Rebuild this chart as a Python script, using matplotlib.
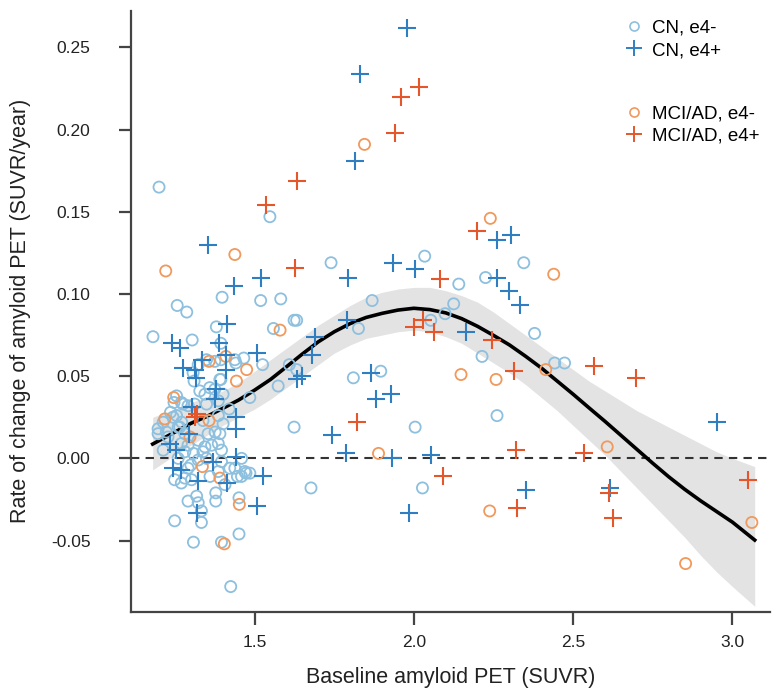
import matplotlib.pyplot as plt
from matplotlib.lines import Line2D

plt.rcParams['font.family'] = ['Liberation Sans', 'DejaVu Sans']

# CN, e4- (light blue circles)
cn_neg_x = [1.200, 1.548, 1.740, 2.034, 1.257, 1.287, 1.398, 1.519, 1.582, 1.869,
            1.624, 1.632, 1.380, 1.559, 2.053, 2.098, 2.345, 2.141, 2.225, 2.125,
            2.379, 2.214, 2.442, 2.473, 2.261, 1.826, 1.525, 1.609, 1.632, 1.574,
            1.485, 1.810, 1.896, 1.624, 2.004, 1.677, 2.027, 1.485, 1.181, 1.304,
            1.441, 1.466,
            1.394, 1.349, 1.375, 1.394, 1.438, 1.323, 1.307, 1.394, 1.310, 1.359,
            1.328, 1.375, 1.344, 1.270, 1.291, 1.386, 1.401, 1.247, 1.275, 1.312,
            1.349, 1.255, 1.271, 1.260, 1.338, 1.386, 1.401, 1.197, 1.223, 1.228,
            1.281, 1.323, 1.354, 1.376, 1.391, 1.270, 1.291, 1.344, 1.365, 1.386,
            1.213, 1.281, 1.308, 1.338, 1.396, 1.260, 1.323, 1.349, 1.396, 1.459,
            1.291, 1.281, 1.302, 1.360, 1.386, 1.422, 1.469, 1.459, 1.407, 1.249,
            1.270, 1.291, 1.318, 1.323, 1.378, 1.378, 1.451, 1.249, 1.333, 1.333,
            1.308, 1.396, 1.451, 1.425, 1.255, 1.197, 1.213, 1.244, 1.391, 1.438,
            1.446, 1.473, 1.236, 1.265, 1.300, 1.420]
cn_neg_y = [0.165, 0.147, 0.119, 0.123, 0.093, 0.089, 0.098, 0.096, 0.097, 0.096,
            0.084, 0.084, 0.080, 0.079, 0.084, 0.088, 0.119, 0.106, 0.110, 0.094,
            0.076, 0.062, 0.058, 0.058, 0.026, 0.079, 0.057, 0.057, 0.054, 0.044,
            0.037, 0.049, 0.053, 0.019, 0.019, -0.018, -0.018, -0.009, 0.074, 0.072,
            0.058, 0.061,
            0.070, 0.060, 0.059, 0.060, 0.060, 0.057, 0.052, 0.048, 0.047, 0.043,
            0.041, 0.042, 0.039, 0.034, 0.032, 0.035, 0.039, 0.034, 0.033, 0.033,
            0.033, 0.026, 0.022, 0.019, 0.023, 0.026, 0.021, 0.015, 0.016, 0.013,
            0.015, 0.011, 0.015, 0.016, 0.015, 0.009, 0.008, 0.007, 0.008, 0.009,
            0.005, 0.004, 0.003, 0.004, 0.005, 0.000, -0.001, 0.000, -0.002, 0.000,
            -0.006, -0.012, -0.013, -0.011, -0.008, -0.006, -0.008, -0.011, -0.016, -0.013,
            -0.015, -0.026, -0.023, -0.027, -0.021, -0.026, -0.024, -0.038, -0.032, -0.039,
            -0.051, -0.051, -0.046, -0.078, 0.038, 0.018, 0.022, 0.025, 0.048, -0.006,
            -0.011, -0.009, 0.028, 0.019, -0.004, 0.030]

# CN, e4+ (blue pluses)
cn_pos_x = [1.977, 1.832, 1.815, 1.354, 1.435, 1.519, 1.792, 1.934, 2.004, 1.412,
            1.789, 2.261, 2.306, 2.261, 2.300, 2.332, 2.165, 2.055, 2.953, 2.352,
            2.617, 1.690, 1.679, 1.508, 1.632, 1.650, 1.865, 1.880, 1.927, 1.742,
            1.787, 1.931, 1.527, 1.508, 1.985,
            1.242, 1.267, 1.388, 1.275, 1.312, 1.336, 1.410, 1.409, 1.315, 1.380,
            1.376, 1.302, 1.443, 1.443, 1.294, 1.234, 1.252, 1.443, 1.368, 1.243,
            1.268, 1.323, 1.412, 1.318]
cn_pos_y = [0.262, 0.234, 0.181, 0.130, 0.105, 0.110, 0.110, 0.119, 0.115, 0.082,
            0.084, 0.133, 0.136, 0.110, 0.102, 0.093, 0.077, 0.002, 0.022, -0.019,
            -0.018, 0.074, 0.063, 0.064, 0.048, 0.050, 0.052, 0.036, 0.039, 0.014,
            0.003, 0.000, -0.011, -0.029, -0.033,
            0.070, 0.067, 0.070, 0.055, 0.054, 0.060, 0.054, 0.063, 0.049, 0.042,
            0.036, 0.031, 0.025, 0.018, 0.015, 0.009, 0.005, 0.001, -0.002, -0.006,
            -0.007, -0.014, -0.015, -0.033]

# MCI/AD, e4- (orange circles)
mci_neg_x = [1.221, 1.438, 1.845, 1.580, 1.410, 1.357, 1.475, 1.443, 1.246, 1.218,
             1.357, 1.297, 1.336, 1.391, 1.452, 1.405, 1.889, 2.240, 2.439, 2.148,
             2.258, 2.414, 2.607, 2.238, 2.853, 3.061]
mci_neg_y = [0.114, 0.124, 0.191, 0.078, 0.062, 0.059, 0.054, 0.047, 0.037, 0.024,
             0.023, 0.013, -0.005, -0.012, -0.028, -0.052, 0.003, 0.146, 0.112, 0.051,
             0.048, 0.054, 0.007, -0.032, -0.064, -0.039]

# MCI/AD, e4+ (red pluses)
mci_pos_x = [2.017, 1.959, 1.942, 1.632, 1.536, 1.627, 2.083, 2.198, 1.313, 1.318,
             1.823, 1.999, 2.030, 2.062, 2.091, 2.245, 2.313, 2.565, 2.696, 2.322,
             2.533, 2.325, 2.612, 2.626, 3.050]
mci_pos_y = [0.226, 0.220, 0.198, 0.169, 0.154, 0.116, 0.109, 0.138, 0.025, 0.027,
             0.022, 0.080, 0.084, 0.077, -0.011, 0.072, 0.053, 0.056, 0.049, 0.005,
             0.003, -0.030, -0.021, -0.036, -0.013]

# smooth fit with confidence band
fit_x = [1.18, 1.25, 1.30, 1.35, 1.40, 1.45, 1.50, 1.55, 1.60, 1.65, 1.70, 1.75,
         1.80, 1.85, 1.90, 1.95, 2.00, 2.05, 2.10, 2.15, 2.20, 2.25, 2.30, 2.35,
         2.40, 2.45, 2.50, 2.55, 2.60, 2.65, 2.70, 2.75, 2.80, 2.85, 2.90, 2.95,
         3.00, 3.07]
fit_y = [0.0087, 0.0160, 0.0213, 0.0255, 0.0304, 0.0355, 0.0415, 0.0480, 0.0557, 0.0635,
         0.0709, 0.0770, 0.0820, 0.0857, 0.0882, 0.0902, 0.0913, 0.0905, 0.0885, 0.0850,
         0.0803, 0.0748, 0.0690, 0.0622, 0.0550, 0.0470, 0.0390, 0.0307, 0.0225, 0.0140,
         0.0055, -0.0030, -0.0112, -0.0188, -0.0258, -0.0323, -0.0388, -0.0497]
fit_hi = [0.025, 0.030, 0.034, 0.037, 0.041, 0.046, 0.053, 0.060, 0.067, 0.074,
          0.081, 0.087, 0.093, 0.098, 0.101, 0.103, 0.104, 0.104, 0.102, 0.099,
          0.095, 0.089, 0.082, 0.075, 0.068, 0.061, 0.054, 0.047, 0.041, 0.035,
          0.029, 0.024, 0.019, 0.014, 0.009, 0.004, 0.000, -0.005]
fit_lo = [-0.007, 0.002, 0.008, 0.014, 0.020, 0.025, 0.030, 0.036, 0.043, 0.050,
          0.057, 0.064, 0.069, 0.073, 0.075, 0.077, 0.078, 0.077, 0.074, 0.070,
          0.064, 0.058, 0.052, 0.045, 0.037, 0.029, 0.020, 0.011, 0.002, -0.008,
          -0.018, -0.028, -0.038, -0.048, -0.059, -0.069, -0.078, -0.090]

c_cn_neg = '#8dc0df'
c_cn_pos = '#2f7ec2'
c_mci_neg = '#f1995c'
c_mci_pos = '#e5572b'
spine_col = '#444444'

fig = plt.figure(figsize=(7.77, 6.92), dpi=100)
ax = fig.add_axes([0.1682, 0.1160, 0.8228, 0.8685])

ax.fill_between(fit_x, fit_lo, fit_hi, color='#e3e3e3', linewidth=0, zorder=1)
ax.axhline(0, color='#333333', linestyle=(0, (4, 3)), linewidth=1.5, zorder=2)
ax.plot(fit_x, fit_y, color='black', linewidth=2.6, zorder=2)

ax.scatter(cn_neg_x, cn_neg_y, s=64, facecolors='none', edgecolors=c_cn_neg, linewidths=1.3, zorder=3)
ax.scatter(mci_neg_x, mci_neg_y, s=64, facecolors='none', edgecolors=c_mci_neg, linewidths=1.3, zorder=3)
ax.scatter(cn_pos_x, cn_pos_y, s=150, marker='+', color=c_cn_pos, linewidths=1.5, zorder=3)
ax.scatter(mci_pos_x, mci_pos_y, s=150, marker='+', color=c_mci_pos, linewidths=1.5, zorder=3)

ax.set_xlim(1.111, 3.118)
ax.set_ylim(-0.0933, 0.2723)
ax.set_xticks([1.5, 2.0, 2.5, 3.0])
ax.set_yticks([-0.05, 0.0, 0.05, 0.10, 0.15, 0.20, 0.25])
ax.set_xticklabels(['1.5', '2.0', '2.5', '3.0'])
ax.set_yticklabels(['-0.05', '0.00', '0.05', '0.10', '0.15', '0.20', '0.25'])

for side in ['top', 'right']:
    ax.spines[side].set_visible(False)
for side in ['left', 'bottom']:
    ax.spines[side].set_color(spine_col)
    ax.spines[side].set_linewidth(1.6)
ax.tick_params(axis='both', direction='out', length=9, width=1.6, color=spine_col,
               labelsize=12.5, labelcolor='#222222')
ax.tick_params(axis='y', pad=20)
ax.tick_params(axis='x', pad=8)

ax.set_xlabel('Baseline amyloid PET (SUVR)', fontsize=15.5, color='#222222', labelpad=12)
ax.set_ylabel('Rate of change of amyloid PET (SUVR/year)', fontsize=15.5, color='#222222', labelpad=14)

h1 = [Line2D([], [], linestyle='none', marker='o', markersize=6.5, markerfacecolor='none',
             markeredgecolor=c_cn_neg, markeredgewidth=1.2),
      Line2D([], [], linestyle='none', marker='+', markersize=12, color=c_cn_pos,
             markeredgewidth=1.4)]
h2 = [Line2D([], [], linestyle='none', marker='o', markersize=6.5, markerfacecolor='none',
             markeredgecolor=c_mci_neg, markeredgewidth=1.2),
      Line2D([], [], linestyle='none', marker='+', markersize=12, color=c_mci_pos,
             markeredgewidth=1.4)]
leg_kw = dict(frameon=False, fontsize=13.5, handlelength=1.0, handletextpad=0.45,
              borderpad=0, borderaxespad=0, labelspacing=0.3, loc='upper left')
leg1 = ax.legend(h1, ['CN, e4-', 'CN, e4+'], bbox_to_anchor=(0.773, 0.986), **leg_kw)
ax.add_artist(leg1)
ax.legend(h2, ['MCI/AD, e4-', 'MCI/AD, e4+'], bbox_to_anchor=(0.773, 0.843), **leg_kw)

fig.savefig('out.png', dpi=100)
